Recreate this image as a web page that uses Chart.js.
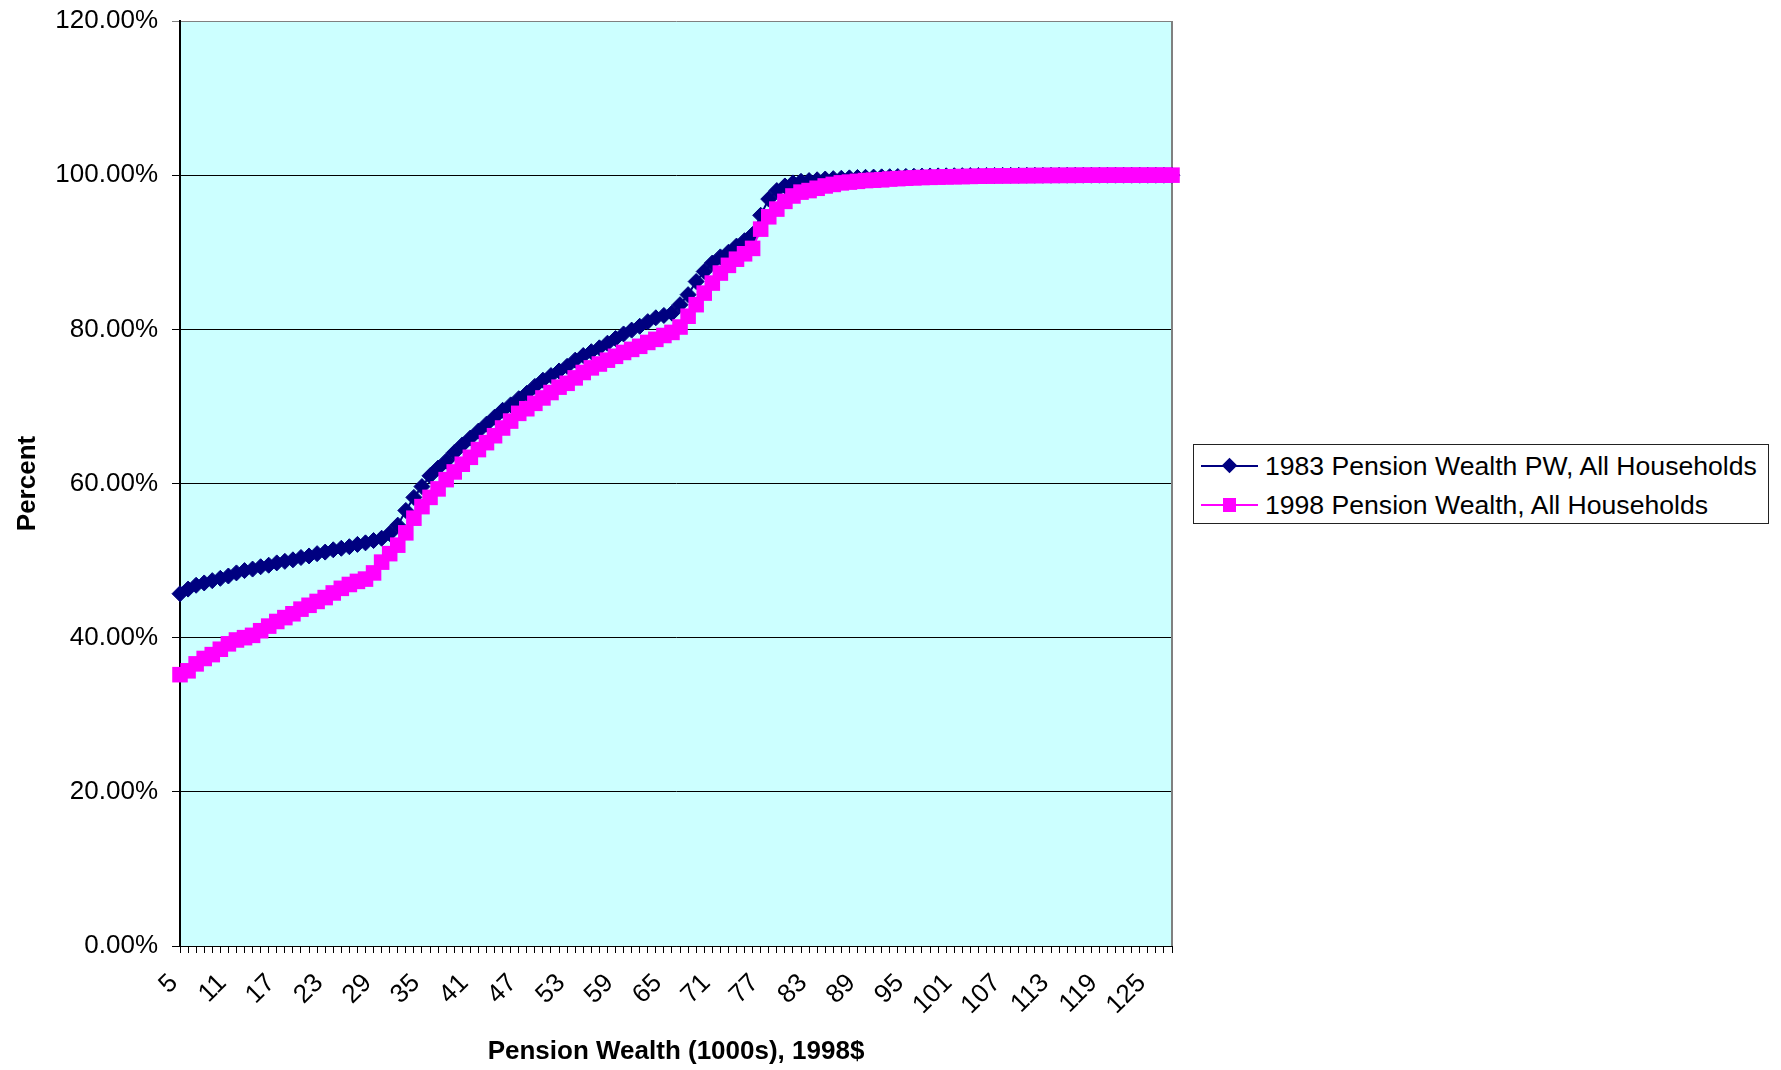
<!DOCTYPE html>
<html>
<head>
<meta charset="utf-8">
<title>Pension Wealth distribution, 1983 vs 1998</title>
<script src="https://cdn.jsdelivr.net/npm/chart.js@4/dist/chart.umd.min.js"></script>
<style>
  html, body { margin: 0; padding: 0; background: #fff; }
  #wrap { position: relative; width: 1781px; height: 1070px; overflow: hidden; }
  #chart { display: block; }
  .legend {
    position: absolute; left: 1193px; top: 444px; width: 576px; height: 80px;
    box-sizing: border-box; border: 1px solid #222; background: #fff;
    font-family: 'Liberation Sans', Arial, sans-serif; font-size: 26.6px; color: #000;
  }
  .legend .row { position: absolute; left: 0; height: 30px; width: 100%; }
  .legend .row .line { position: absolute; left: 7px; top: 14px; width: 57px; height: 2px; }
  .legend .row .mark { position: absolute; }
  .legend .row .txt { position: absolute; left: 71px; top: 0; line-height: 30px; white-space: nowrap; }
</style>
</head>
<body>
<div id="wrap">
  <canvas id="chart" width="1781" height="1070"></canvas>
  <div class="legend" id="legend"></div>
</div>
<script>
// Pension wealth categories (thousands of 1998 dollars)
const categories = [
  5, 6, 7, 8, 9, 10, 11, 12, 13, 14, 15, 16, 17, 18, 19, 20, 21, 22, 23, 24,
  25, 26, 27, 28, 29, 30, 31, 32, 33, 34, 35, 36, 37, 38, 39, 40, 41, 42, 43, 44,
  45, 46, 47, 48, 49, 50, 51, 52, 53, 54, 55, 56, 57, 58, 59, 60, 61, 62, 63, 64,
  65, 66, 67, 68, 69, 70, 71, 72, 73, 74, 75, 76, 77, 78, 79, 80, 81, 82, 83, 84,
  85, 86, 87, 88, 89, 90, 91, 92, 93, 94, 95, 96, 97, 98, 99, 100, 101, 102, 103, 104,
  105, 106, 107, 108, 109, 110, 111, 112, 113, 114, 115, 116, 117, 118, 119, 120, 121, 122, 123, 124,
  125, 126, 127, 128
];

// Category labels printed under the axis
const tickLabels = [5, 11, 17, 23, 29, 35, 41, 47, 53, 59, 65, 71, 77, 83, 89, 95, 101, 107, 113, 119, 125];

// Cumulative share of households (%), one value per category
const pw1983 = [
  45.7, 46.3, 46.8, 47.1, 47.4, 47.7, 48.0, 48.4, 48.7, 48.9,
  49.2, 49.4, 49.7, 49.9, 50.1, 50.4, 50.6, 50.9, 51.1, 51.4,
  51.6, 51.8, 52.1, 52.3, 52.6, 52.9, 53.5, 54.6, 56.5, 58.2,
  59.6, 61.0, 62.0, 62.9, 64.0, 65.0, 65.9, 66.8, 67.7, 68.6,
  69.5, 70.2, 71.0, 71.7, 72.6, 73.4, 74.0, 74.6, 75.2, 76.0,
  76.6, 77.1, 77.6, 78.2, 78.8, 79.4, 79.9, 80.4, 81.0, 81.5,
  81.8, 82.1, 83.2, 84.5, 86.2, 87.5, 88.6, 89.4, 90.0, 90.8,
  91.5, 92.3, 94.8, 96.9, 98.0, 98.6, 99.0, 99.2, 99.3, 99.4,
  99.5, 99.55, 99.6, 99.65, 99.7, 99.72, 99.75, 99.78, 99.8, 99.82,
  99.84, 99.86, 99.88, 99.9, 99.91, 99.92, 99.93, 99.94, 99.95, 99.96,
  99.97, 99.97, 99.98, 99.98, 99.98, 99.99, 99.99, 99.99, 99.99, 100,
  100, 100, 100, 100, 100, 100, 100, 100, 100, 100,
  100, 100, 100, 100
];
const pw1998 = [
  35.2, 35.7, 36.6, 37.3, 37.8, 38.5, 39.2, 39.7, 40.0, 40.3,
  40.9, 41.5, 42.1, 42.6, 43.1, 43.7, 44.2, 44.7, 45.2, 45.8,
  46.4, 46.9, 47.3, 47.6, 48.4, 49.8, 50.9, 52.0, 53.6, 55.5,
  57.0, 58.2, 59.3, 60.5, 61.5, 62.5, 63.4, 64.4, 65.3, 66.2,
  67.2, 68.1, 69.1, 69.7, 70.4, 71.1, 71.8, 72.5, 73.0, 73.7,
  74.4, 75.0, 75.5, 76.0, 76.5, 77.0, 77.4, 77.8, 78.3, 78.7,
  79.2, 79.6, 80.3, 81.7, 83.2, 84.7, 86.0, 87.3, 88.3, 89.1,
  89.8, 90.5, 93.0, 94.6, 95.6, 96.6, 97.3, 97.8, 98.0, 98.3,
  98.6, 98.8, 99.0, 99.1, 99.2, 99.3, 99.35, 99.4, 99.5, 99.55,
  99.6, 99.65, 99.7, 99.72, 99.75, 99.78, 99.8, 99.82, 99.84, 99.86,
  99.88, 99.9, 99.91, 99.92, 99.93, 99.94, 99.95, 99.96, 99.97, 99.97,
  99.98, 99.98, 99.99, 99.99, 99.99, 100, 100, 100, 100, 100,
  100, 100, 100, 100
];

const seriesNames = ['1983 Pension Wealth PW, All Households', '1998 Pension Wealth, All Households'];
const seriesColors = ['#000080', '#FF00FF'];

const FONT = "'Liberation Sans', Arial, sans-serif";

// Plot-area fill and the grey frame on its right edge
const plotFrame = {
  id: 'plotFrame',
  beforeDraw(chart) {
    const { ctx, chartArea: a } = chart;
    ctx.save();
    ctx.fillStyle = '#CCFFFF';
    ctx.fillRect(a.left, a.top, a.right - a.left, a.bottom - a.top);
    ctx.restore();
  },
  beforeDatasetsDraw(chart) {
    const { ctx, chartArea: a } = chart;
    ctx.save();
    ctx.strokeStyle = '#808080';
    ctx.lineWidth = 2;
    ctx.beginPath();
    ctx.moveTo(Math.round(a.right), a.top);
    ctx.lineTo(Math.round(a.right), a.bottom);
    ctx.stroke();
    ctx.restore();
  }
};

new Chart(document.getElementById('chart'), {
  type: 'line',
  data: {
    labels: categories,
    datasets: [
      {
        label: seriesNames[0], data: pw1983,
        borderColor: seriesColors[0], backgroundColor: seriesColors[0],
        borderWidth: 2, pointStyle: 'rectRot', pointRadius: 8,
        pointBorderWidth: 1, pointBorderColor: seriesColors[0], order: 1
      },
      {
        label: seriesNames[1], data: pw1998,
        borderColor: seriesColors[1], backgroundColor: seriesColors[1],
        borderWidth: 2, pointStyle: 'rect', pointRadius: 11,
        pointBorderWidth: 0, order: 0
      }
    ]
  },
  options: {
    responsive: false,
    animation: false,
    devicePixelRatio: 1,
    layout: { autoPadding: false, padding: { left: 12, top: 21, right: 609, bottom: 3 } },
    elements: { line: { tension: 0 } },
    plugins: { legend: { display: false }, tooltip: { enabled: false } },
    scales: {
      x: {
        type: 'category',
        offset: false,
        grid: { drawOnChartArea: false, drawTicks: true, tickLength: 7, color: '#000', lineWidth: 1 },
        border: { color: '#000', width: 1 },
        ticks: {
          autoSkip: false, minRotation: 45, maxRotation: 45, padding: 15, labelOffset: -6,
          color: '#000', font: { family: FONT, size: 26 },
          callback: (v, i) => tickLabels.includes(categories[i]) ? String(categories[i]) : ''
        },
        title: {
          display: true, text: 'Pension Wealth (1000s), 1998$', color: '#000',
          font: { family: FONT, size: 26, weight: 'bold' }, padding: 0
        },
        afterFit(s) { s.height = 121; s.paddingLeft = 0; s.paddingRight = 0; }
      },
      y: {
        min: 0, max: 120,
        grid: {
          color: c => (c.tick && c.tick.value === 120) ? '#808080' : '#000',
          lineWidth: 1, tickLength: 8
        },
        border: { color: '#000', width: 2 },
        ticks: {
          stepSize: 20, padding: 14, color: '#000',
          font: { family: FONT, size: 26 },
          callback: v => v.toFixed(2) + '%'
        },
        title: {
          display: true, text: 'Percent', color: '#000',
          font: { family: FONT, size: 26, weight: 'bold' }, padding: 0
        },
        afterFit(s) { s.width = 168; s.paddingTop = 0; s.paddingBottom = 0; }
      }
    }
  },
  plugins: [plotFrame]
});

// Legend box
const legend = document.getElementById('legend');
const rowTops = [6, 45];
seriesNames.forEach((name, i) => {
  const row = document.createElement('div');
  row.className = 'row';
  row.style.top = rowTops[i] + 'px';
  const line = document.createElement('div');
  line.className = 'line';
  line.style.background = seriesColors[i];
  const mark = document.createElement('div');
  mark.className = 'mark';
  mark.style.background = seriesColors[i];
  if (i === 0) {
    Object.assign(mark.style, { left: '30px', top: '9px', width: '11px', height: '11px', transform: 'rotate(45deg)' });
  } else {
    Object.assign(mark.style, { left: '29px', top: '8px', width: '13px', height: '14px' });
  }
  const txt = document.createElement('div');
  txt.className = 'txt';
  txt.textContent = name;
  row.append(line, mark, txt);
  legend.appendChild(row);
});
</script>
</body>
</html>
